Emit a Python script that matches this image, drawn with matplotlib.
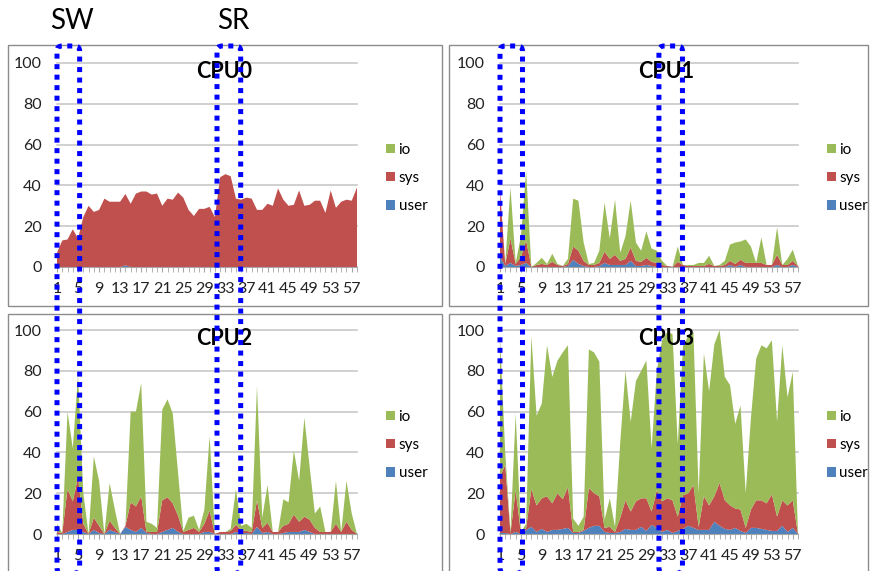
import numpy as np
import matplotlib.pyplot as plt
from matplotlib.patches import FancyBboxPatch, Rectangle, Patch
import matplotlib.transforms as mtransforms

plt.rcParams['font.family'] = ['Lato', 'DejaVu Sans']

# sample index 1..58, labelled every 4th
x = np.arange(1, 59)
xticks = list(range(1, 58, 4))

# CPU utilisation in %, split into user / sys / io
cpu0_user = [0, 0, 0, 0, 0, 0, 0, 0, 0, 0, 0, 0, 0, 0.8, 0, 0, 0, 0, 0, 0,
             0, 0, 0, 0, 0, 0, 0, 0, 0, 0, 0, 0, 0, 0, 0, 0, 0, 0, 0, 0,
             0, 0, 0, 0, 0, 0, 0, 0, 0, 0, 0, 0, 0, 0, 0, 0, 0, 0]
cpu0_sys = [7, 13, 13.5, 18.5, 14, 24.5, 30, 27, 28, 33.5,
            32, 32, 32, 35, 31, 36, 37, 37, 35.5, 36,
            30, 33.5, 33, 36.5, 34, 28, 25, 28.5, 28.5, 29.5,
            24.5, 44, 45.5, 44.5, 33.5, 33, 34, 33.5, 28, 28,
            31, 30, 38.5, 33, 30, 30.5, 37.5, 30, 30.5, 32.5,
            32.5, 26.5, 37.5, 29, 32, 33, 32.5, 39]
cpu0_io = [0] * 58

cpu1_user = [5, 0.5, 2, 0.5, 1, 2, 0, 0, 0, 0,
             0, 0, 0, 0.5, 3.5, 1.5, 0.5, 0, 0, 0.5,
             2, 1, 1, 1, 1, 3, 0.5, 0.5, 1, 0.5,
             0, 0, 0, 0, 0, 0, 0, 0, 0, 0,
             0, 0, 0, 0, 1, 0, 1, 0, 0, 0,
             0, 0, 0, 1, 0, 0, 1, 0]
cpu1_sys = [33, 1, 12, 1, 4, 11, 0, 1, 1.5, 1,
            2.5, 1, 0.5, 1, 6.5, 6.5, 2.5, 1, 1, 1.5,
            5.5, 3, 5, 2, 3, 6.5, 2.5, 2, 3.5, 2,
            2, 1, 0.5, 0, 2.5, 1, 0.5, 0.5, 0.5, 0.5,
            1.5, 0.5, 0.5, 1, 2, 1.5, 2.5, 2, 2, 2,
            2, 1, 1, 5, 1, 1, 2, 0.5]
cpu1_io = [0, 0, 25, 0.5, 10, 34, 0, 1, 3, 0.5,
           4, 0.5, 0, 2.5, 23.5, 24.5, 9, 0.5, 1, 6,
           24, 10, 27, 4, 11, 23, 9, 5.5, 13, 6.5,
           6, 2, 0, 0, 7.5, 0, 0.5, 0.5, 1.5, 1.5,
           4, 0, 0.5, 2, 8, 10.5, 9, 11.5, 8, 0,
           12.5, 0, 0, 13.5, 0, 3, 5.5, 0]

cpu2_user = [0, 0, 1, 2, 2, 1, 0, 2, 0.5, 0,
             2, 1, 0, 3.5, 2, 1, 3, 0.5, 0, 0,
             1, 2, 3, 1, 0, 0, 0, 0, 1, 1,
             0, 0, 0, 0, 1, 0.5, 0.5, 0, 3.5, 0.5,
             1, 0, 0, 0.5, 1, 1, 1, 2, 1, 0,
             0, 0, 0, 0, 0, 0, 0, 0]
cpu2_sys = [1, 0.5, 21, 14, 26, 4, 0, 6, 3.5, 0,
            4.5, 2, 0, 0.5, 13.5, 12.5, 15.5, 0.5, 1, 1,
            15.5, 16, 12, 8, 1, 2, 3, 1, 4, 10.5,
            0, 1, 1, 1.5, 3.5, 1.5, 1, 1, 13, 2.5,
            4.5, 1, 1, 3.5, 4, 8.5, 5, 6.5, 6, 3,
            1, 1, 1, 5, 1, 6, 2, 0]
cpu2_io = [4, 0, 38, 26, 50, 15, 0, 30, 22, 0,
           18.5, 9, 0, 0, 44.5, 46.5, 55.5, 5, 4, 2,
           44.5, 48, 44, 21, 0.5, 6, 6, 1, 7, 36.5,
           0, 0, 0, 1, 17.5, 2, 3.5, 2, 56, 5,
           18.5, 0, 0, 13, 10.5, 31.5, 20, 48.5, 26, 7,
           12.5, 0, 0, 21, 0, 20, 8, 0]

cpu3_user = [0.5, 0.5, 0, 1, 0, 2, 3.5, 1, 2.5, 1,
             2, 2, 2.5, 3, 0.5, 0.5, 1.5, 3, 4, 4,
             1, 0.5, 0.5, 1, 2.5, 2, 2, 3.5, 1.5, 4.5,
             3, 1, 2, 0.5, 1.5, 2.5, 4, 3, 2, 2,
             2, 6, 4, 2.5, 2, 3, 1.5, 0.5, 3, 3,
             2.5, 2, 1.5, 1.5, 4, 1, 3, 0]
cpu3_sys = [27.5, 33.5, 0.5, 20.5, 0.5, 1, 18.5, 13, 15, 17.5,
            13, 18, 14.5, 20, 0.5, 0.5, 0.5, 19.5, 16, 14.5,
            2, 3, 0.5, 7, 14, 9, 14, 14, 16, 6.5,
            18.5, 15, 15.5, 16, 7, 16.5, 16, 21, 1.5, 16.5,
            12, 12.5, 21, 14, 12, 9.5, 10.5, 2.5, 9, 13.5,
            14, 13, 18, 7, 12.5, 13, 13.5, 0]
cpu3_io = [69, 6, 0.5, 37.5, 0.5, 2, 75, 44, 46.5, 74,
           62, 65, 72, 69.5, 6.5, 3, 6.5, 68, 69, 66,
           4, 14, 2.5, 37, 63.5, 44, 59, 62.5, 67.5, 31,
           58.5, 79, 81.5, 81.5, 35.5, 73, 77, 75, 16.5, 70,
           56, 74.5, 75, 60.5, 59, 41.5, 51, 17, 45, 69.5,
           76, 76, 75.5, 46.5, 76, 53, 63, 0]

# highlighted sample windows (write / read phases)
windows = [('SW', 1, 5.3), ('SR', 31.4, 35.9)]

colors = {'user': '#4F81BD', 'sys': '#C0504D', 'io': '#9BBB59'}

W, H = 871, 571
fig = plt.figure(figsize=(W / 100, H / 100), dpi=100)


def add_px_axes(l, t, r, b):
    return fig.add_axes([l / W, 1 - b / H, (r - l) / W, (b - t) / H])


panels = [
    ('CPU0', cpu0_user, cpu0_sys, cpu0_io, (57, 63, 357, 267), (8, 45, 442, 306)),
    ('CPU1', cpu1_user, cpu1_sys, cpu1_io, (500, 63, 798, 267), (449, 45, 868, 306)),
    ('CPU2', cpu2_user, cpu2_sys, cpu2_io, (57, 330, 357, 534), (8, 314, 442, 580)),
    ('CPU3', cpu3_user, cpu3_sys, cpu3_io, (500, 330, 798, 534), (449, 314, 868, 580)),
]

axes = []
for name, user, sys_, io, area, box in panels:
    # chart frame
    bl, bt, br, bb = box
    fig.add_artist(Rectangle((bl / W, 1 - bb / H), (br - bl) / W, (bb - bt) / H,
                             transform=fig.transFigure, facecolor='none',
                             edgecolor='#8C8C8C', linewidth=1))
    ax = add_px_axes(*area)
    ax.set_facecolor('none')
    ax.stackplot(x, user, sys_, io,
                 colors=[colors['user'], colors['sys'], colors['io']],
                 linewidth=0)
    ax.set_xlim(1, 58)
    ax.set_ylim(0, 100)
    ax.set_yticks(range(0, 101, 20))
    ax.set_xticks(xticks)
    ax.set_xticks(x, minor=True)
    ax.set_axisbelow(True)
    ax.yaxis.grid(True, color='#C8C8C8', linewidth=1.2)
    for gl in ax.get_ygridlines():
        gl.set_clip_on(False)
    for s in ['top', 'right', 'left']:
        ax.spines[s].set_visible(False)
    ax.spines['bottom'].set_color('#A6A6A6')
    ax.tick_params(axis='x', which='both', length=3.4, color='#A6A6A6',
                   pad=7.5, labelsize=11.5, labelcolor='#222222')
    ax.tick_params(axis='y', length=0, pad=11, labelsize=11.5, labelcolor='#222222')

    ax.text(0.557, 0.956, name, transform=ax.transAxes, ha='center', va='center',
            fontsize=15.5, fontweight='bold')

    handles = [Patch(facecolor=colors[k], label=k) for k in ['io', 'sys', 'user']]
    ax.legend(handles=handles, loc='center left', bbox_to_anchor=(1.098, 0.435),
              frameon=False, borderpad=0, borderaxespad=0,
              handlelength=0.55, handleheight=0.55,
              handletextpad=0.25, labelspacing=0.92, fontsize=11)
    axes.append(ax)

# dotted boxes marking the SW / SR windows, spanning both rows
top_px = H - 46
for col_ax in (axes[0], axes[1]):
    for label, x0, x1 in windows:
        px0 = col_ax.transData.transform((x0, 0))[0]
        px1 = col_ax.transData.transform((x1, 0))[0]
        rect = FancyBboxPatch((px0, -2), px1 - px0, top_px + 2,
                              boxstyle='round,pad=0,rounding_size=5',
                              transform=mtransforms.IdentityTransform(),
                              facecolor='none', edgecolor='#0000FF',
                              linewidth=3.6, linestyle=(0, (1, 1.1)),
                              capstyle='butt', zorder=10)
        fig.add_artist(rect)
        if col_ax is axes[0]:
            fig.text((px0 + px1) / 2 / W + 4 / W, 1 - 21 / H, label,
                     ha='center', va='center', fontsize=20)

fig.savefig('out.png', dpi=100)
